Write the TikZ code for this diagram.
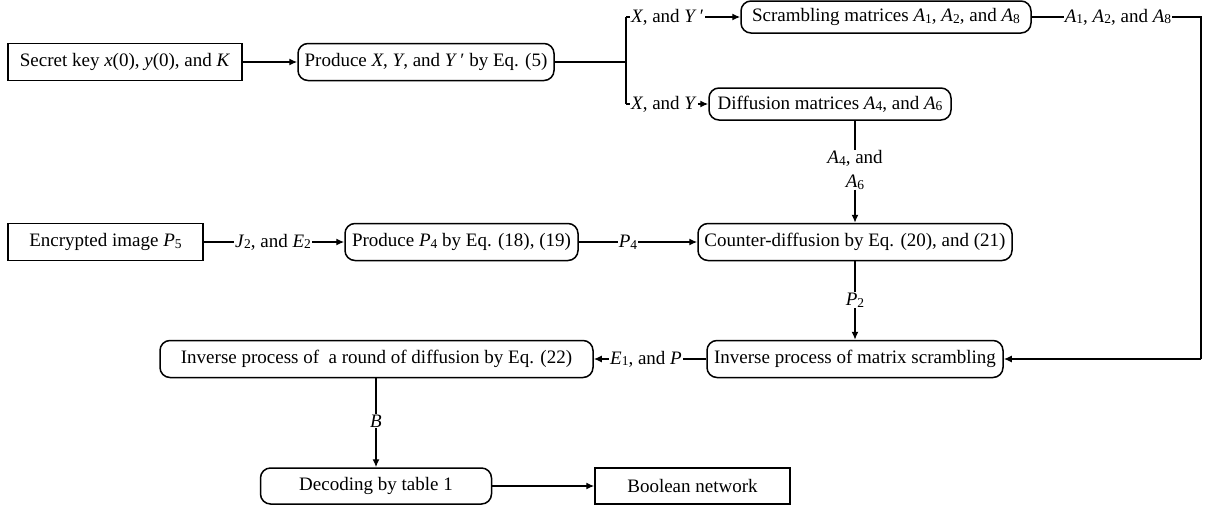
\documentclass[tikz,border=0pt]{standalone}
\usepackage{fontspec}
\setmainfont{Liberation Serif}
\usetikzlibrary{arrows.meta}
\newcommand\subn[1]{\raisebox{-0.2ex}{\fontsize{13.5}{14}\selectfont #1}}
\newcommand\itx[1]{\textit{#1}}
\begin{document}
\begin{tikzpicture}[x=1pt,y=-1pt,
  every node/.style={font=\fontsize{19}{21}\selectfont},
  sqbox/.style={draw,line width=1.5pt,minimum height=37pt,inner sep=2pt},
  rbox/.style={draw,line width=1.5pt,rounded corners=10pt,minimum height=37pt,inner sep=2pt},
  lab/.style={fill=white,inner sep=1pt},
  ln/.style={line width=1.4pt},
  arr/.style={line width=1.4pt,-{Latex[length=8pt,width=7pt]}}]
\useasboundingbox (0,0) rectangle (1205,506);
% row 1/2/3
\node[sqbox,minimum width=234pt] (key) at (125,62) {Secret key \itx{x}(0), \itx{y}(0), and \itx{K}};
\node[rbox,minimum width=256pt] (pxy) at (426,62) {Produce \itx{X}, \itx{Y}, and \itx{Y}\,′ by Eq. (5)};
\coordinate (br) at (626,62);
\coordinate (brt) at (626,17);
\coordinate (brb) at (626,104);
\node[rbox,minimum width=290pt,minimum height=32pt] (scr) at (886,17) {Scrambling matrices \itx{A}\subn{1}, \itx{A}\subn{2}, and \itx{A}\subn{8}};
\node[rbox,minimum width=242pt,minimum height=32pt] (dif) at (830,104) {Diffusion matrices \itx{A}\subn{4}, and \itx{A}\subn{6}};
\node[lab,anchor=west] (l1) at (630,17) {\itx{X}, and \itx{Y}\,′};
\node[lab,anchor=west] (l2) at (630,104) {\itx{X}, and \itx{Y}};
\node[lab] (l3) at (1118,17) {\itx{A}\subn{1}, \itx{A}\subn{2}, and \itx{A}\subn{8}};
\coordinate (rc) at (1201,17);
% row 4
\node[sqbox,minimum width=195pt] (enc) at (105.5,242) {Encrypted image \itx{P}\subn{5}};
\node[rbox,minimum width=233pt] (pp4) at (461.5,242) {Produce \itx{P}\subn{4} by Eq. (18), (19)};
\node[rbox,minimum width=314pt] (cnt) at (855,242) {Counter-diffusion by Eq. (20), and (21)};
\node[lab] (l4) at (273,242) {\itx{J}\subn{2}, and \itx{E}\subn{2}};
\node[lab] (l5) at (628,242) {\itx{P}\subn{4}};
\node[lab,align=center,inner sep=0pt,font=\fontsize{19}{24}\selectfont] (l6) at (855,170) {\itx{A}\subn{4}, and\\\itx{A}\subn{6}};
% row 5
\node[rbox,minimum width=296pt] (inm) at (855,359) {Inverse process of matrix scrambling};
\node[rbox,minimum width=433pt] (ind) at (376.5,359) {Inverse process of \ a round of diffusion by Eq. (22)};
\node[lab] (l7) at (646,359) {\itx{E}\subn{1}, and \itx{P}};
\node[lab] (l8) at (855,300) {\itx{P}\subn{2}};
\coordinate (rc2) at (1201,359);
% row 6
\node[rbox,minimum width=231pt,minimum height=36pt] (dec) at (376,486) {Decoding by table 1};
\node[sqbox,minimum width=195pt,minimum height=36pt] (bn) at (692.5,486) {Boolean network};
\node[lab] (l9) at (376,421) {\itx{B}};
% connectors
\draw[arr] (key) -- (pxy);
\draw[ln] (pxy.east) -- (br);
\draw[ln] (brt) -- (brb);
\draw[ln] (brt) -- (l1.west);
\draw[arr] (l1.east) -- (scr.west);
\draw[ln] (brb) -- (l2.west);
\draw[arr] (l2.east) -- (dif.west);
\draw[ln] (scr.east) -- (l3.west);
\draw[ln] (l3.east) -- (rc) -- (rc2);
\draw[arr] (rc2) -- (inm.east);
\draw[ln] (enc.east) -- (l4.west);
\draw[arr] (l4.east) -- (pp4.west);
\draw[ln] (pp4.east) -- (l5.west);
\draw[arr] (l5.east) -- (cnt.west);
\draw[ln] (dif.south -| l6) -- (l6.north);
\draw[arr] (l6.south) -- (cnt.north);
\draw[ln] (cnt.south) -- (l8.north);
\draw[arr] (l8.south) -- (inm.north);
\draw[ln] (inm.west) -- (l7.east);
\draw[arr] (l7.west) -- (ind.east -| l7.west) -- (ind.east);
\draw[ln] (ind.south -| l9) -- (l9.north);
\draw[arr] (l9.south) -- (dec.north -| l9);
\draw[arr] (dec) -- (bn);
\end{tikzpicture}
\end{document}
